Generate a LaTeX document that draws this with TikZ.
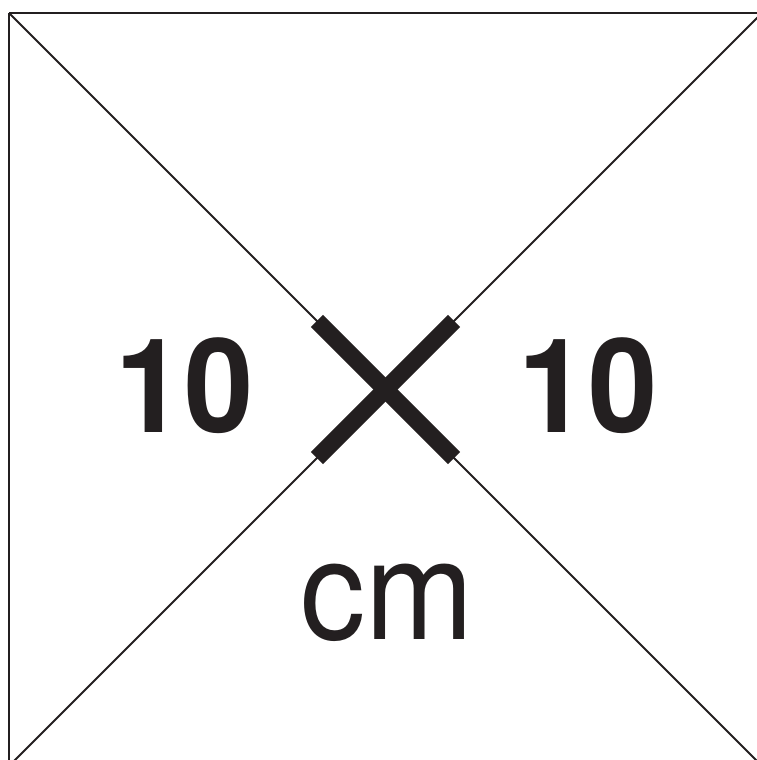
\documentclass[tikz,border=0pt]{standalone}
\usepackage{fontspec}
\setmainfont{TeX Gyre Heros}
\usetikzlibrary{calc}
\definecolor{ink}{HTML}{231F20}
\begin{document}
\begin{tikzpicture}[x=1pt,y=1pt,
  frame/.style={draw=ink,line width=2.4pt},
  diag/.style={draw=ink,line width=2pt},
  bar/.style={draw=ink,line width=17pt,line cap=butt},
  bignum/.style={text=ink,inner sep=0pt,anchor=base,xscale=0.95,font=\bfseries\fontsize{131}{131}\selectfont},
  unit/.style={text=ink,inner sep=0pt,anchor=base,xscale=0.93,font=\fontsize{140}{140}\selectfont}]
\useasboundingbox (0,0) rectangle (757,760);
\clip (0,0) rectangle (757,760);
\coordinate (tl) at (9,747);
\coordinate (tr) at (762,747);
\coordinate (bl) at (9,-6);
\coordinate (br) at (762,-6);
\coordinate (c) at (385.5,370.5);
\draw[frame] (tl) -- (tr) (tl) -- (bl);
\draw[diag] (tl) -- (br);
\draw[diag] (tr) -- (bl);
\coordinate (a1) at ($(c)+(-68.6,68.6)$);
\coordinate (a2) at ($(c)+(68.6,-68.6)$);
\coordinate (b1) at ($(c)+(68.6,68.6)$);
\coordinate (b2) at ($(c)+(-68.6,-68.6)$);
\draw[bar] (a1) -- (a2);
\draw[bar] (b1) -- (b2);
\node[bignum] (left) at (184.5,327) {10};
\node[bignum] (right) at (588,327) {10};
\node[unit] (cm) at (387,120) {cm};
\end{tikzpicture}
\end{document}
